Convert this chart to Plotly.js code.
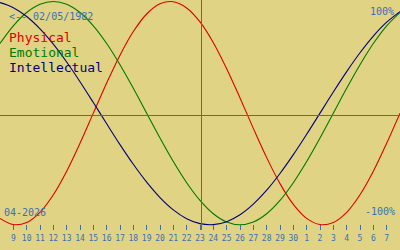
<!DOCTYPE html>
<html><head><meta charset="utf-8">
<script src="https://cdn.plot.ly/plotly-3.0.1.min.js"></script>
<style>html,body{margin:0;padding:0;background:#e0d384;}#chart{width:400px;height:250px;}</style>
</head><body><div id="chart"></div>
<script>
const dates = ['2026-04-08','2026-04-09','2026-04-10','2026-04-11','2026-04-12','2026-04-13','2026-04-14','2026-04-15','2026-04-16','2026-04-17','2026-04-18','2026-04-19','2026-04-20','2026-04-21','2026-04-22','2026-04-23','2026-04-24','2026-04-25','2026-04-26','2026-04-27','2026-04-28','2026-04-29','2026-04-30','2026-05-01','2026-05-02','2026-05-03','2026-05-04','2026-05-05','2026-05-06','2026-05-07','2026-05-08'];
const physical = [-0.9423,-0.9977,-0.9791,-0.8879,-0.7308,-0.5196,-0.2698,0,0.2698,0.5196,0.7308,0.8879,0.9791,0.9977,0.9423,0.8170,0.6311,0.3984,0.1362,-0.1362,-0.3984,-0.6311,-0.8170,-0.9423,-0.9977,-0.9791,-0.8879,-0.7308,-0.5196,-0.2698,0];
const emotional = [0.6235,0.7818,0.9010,0.9749,1,0.9749,0.9010,0.7818,0.6235,0.4339,0.2225,0,-0.2225,-0.4339,-0.6235,-0.7818,-0.9010,-0.9749,-1,-0.9749,-0.9010,-0.7818,-0.6235,-0.4339,-0.2225,0,0.2225,0.4339,0.6235,0.7818,0.9010];
const intellectual = [0.9898,0.9450,0.8660,0.7557,0.6182,0.4582,0.2817,0.0951,-0.0951,-0.2817,-0.4582,-0.6182,-0.7557,-0.8660,-0.9450,-0.9898,-0.9989,-0.9718,-0.9096,-0.8146,-0.6901,-0.5406,-0.3717,-0.1893,0,0.1893,0.3717,0.5406,0.6901,0.8146,0.9096];
const tickDates = dates.slice(1, 30);
const tickLabels = tickDates.map(d => String(parseInt(d.slice(8), 10)));
const todayLine = '2026-04-23 02:42';
const birthLabel = '<-- 02/05/1982';
const monthLabel = '04-2026';
const seriesNames = ['Physical', 'Emotional', 'Intellectual'];
const colors = ['#dd0000', '#007a00', '#00007a'];
const blue = '#3b6fb6';
const bg = '#e0d384';
const mono = 'DejaVu Sans Mono, monospace';

const traces = [physical, emotional, intellectual].map((vals, i) => ({
  x: dates, y: vals, type: 'scatter', mode: 'lines', name: seriesNames[i],
  line: {color: colors[i], width: 1.1, shape: 'spline', smoothing: 1}, hoverinfo: 'skip'
}));

const H = 230;
const py = p => 1 - p / H;
const annotations = [
  {text: birthLabel, x: 8/400, y: py(16), xanchor: 'left', font: {size: 10, color: blue}},
  {text: seriesNames[0], x: 8/400, y: py(38), xanchor: 'left', font: {size: 13, color: colors[0]}},
  {text: seriesNames[1], x: 8/400, y: py(52.5), xanchor: 'left', font: {size: 13, color: colors[1]}},
  {text: seriesNames[2], x: 8/400, y: py(67.3), xanchor: 'left', font: {size: 13, color: colors[2]}},
  {text: '100%', x: 395/400, y: py(11.5), xanchor: 'right', font: {size: 10, color: blue}},
  {text: '-100%', x: 396/400, y: py(211.5), xanchor: 'right', font: {size: 10, color: blue}},
  {text: monthLabel, x: 3/400, y: py(212), xanchor: 'left', font: {size: 10, color: blue}}
].map(a => Object.assign({xref: 'paper', yref: 'paper', yanchor: 'middle', showarrow: false, borderpad: 0}, a, {font: Object.assign({family: mono}, a.font)}));

const layout = {
  width: 400, height: 250,
  margin: {l: 0, r: 0, t: 0, b: 20, pad: 0},
  paper_bgcolor: bg, plot_bgcolor: bg,
  showlegend: false,
  xaxis: {type: 'date', range: [dates[0], dates[dates.length - 1]], tickmode: 'array', tickvals: tickDates, ticktext: tickLabels,
    ticks: 'inside', ticklen: 5, tickwidth: 1, tickcolor: blue, showgrid: false, zeroline: false, showline: false,
    ticklabelstandoff: 2,
    tickfont: {family: mono, size: 8, color: blue}, fixedrange: true},
  yaxis: {range: [-1.0466, 1.0134], visible: false, showgrid: false, zeroline: false, fixedrange: true},
  shapes: [
    {type: 'line', xref: 'x', yref: 'paper', x0: todayLine, x1: todayLine, y0: 0, y1: 1, line: {color: blue, width: 1}},
    {type: 'line', xref: 'paper', yref: 'y', x0: 0, x1: 1, y0: -0.02105, y1: -0.02105, line: {color: blue, width: 1}}
  ],
  annotations: annotations
};
Plotly.newPlot('chart', traces, layout, {staticPlot: true, displayModeBar: false});
</script></body></html>
